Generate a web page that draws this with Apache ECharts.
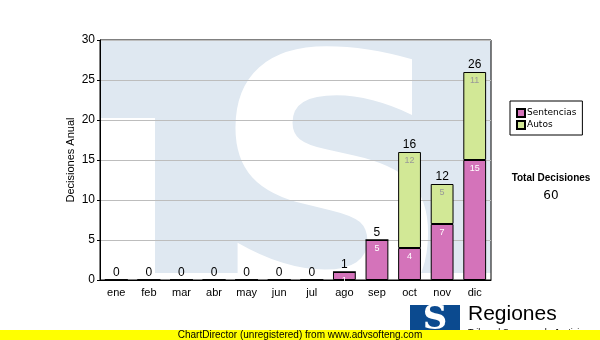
<!DOCTYPE html>
<html>
<head>
<meta charset="utf-8">
<script src="https://cdn.jsdelivr.net/npm/echarts@6/dist/echarts.min.js"></script>
<style>
  html, body { margin: 0; padding: 0; background: #fff; }
  #chart { width: 600px; height: 340px; }
</style>
</head>
<body>
<div id="chart"></div>
<script>
// datos
var months = ['ene', 'feb', 'mar', 'abr', 'may', 'jun', 'jul', 'ago', 'sep', 'oct', 'nov', 'dic'];
var sentencias = [0, 0, 0, 0, 0, 0, 0, 1, 5, 4, 7, 15];
var autos = [0, 0, 0, 0, 0, 0, 0, 0, 0, 12, 5, 11];
var totalLabel = 'Total Decisiones';
var totalValue = 60;

var totals = months.map(function (m, i) { return sentencias[i] + autos[i]; });

var chartDom = document.getElementById('chart');
var myChart = echarts.init(chartDom);
var option;

// marca de agua de fondo (decoracion)
var wmBlue = '#dfe8f1';

option = {
    animation: false,
    textStyle: { fontFamily: 'Liberation Sans, Arial, sans-serif' },
    grid: {
        left: 100, right: 109, top: 40, bottom: 60,
        show: true, borderColor: '#000', borderWidth: 1,
        backgroundColor: 'transparent'
    },
    graphic: [
        { type: 'rect', z: -10, shape: { x: 100, y: 40, width: 391, height: 240 }, style: { fill: wmBlue } },
        { type: 'rect', z: -9, shape: { x: 100, y: 118, width: 55, height: 162 }, style: { fill: '#fff' } },
        { type: 'rect', z: -9, shape: { x: 155, y: 273, width: 336, height: 7 }, style: { fill: '#fff' } },
        {
            type: 'text', z: -9, x: 332, y: 220, scaleX: 0.93,
            style: { text: 'S', font: 'bold 360px "DejaVu Sans"', fill: '#fff', textAlign: 'center', textVerticalAlign: 'middle' }
        },
        // texto total
        { type: 'text', x: 551, y: 178, style: { text: totalLabel, font: 'bold 10px "Liberation Sans"', fill: '#000', textAlign: 'center', textVerticalAlign: 'middle' } },
        { type: 'text', x: 551, y: 196, style: { text: String(totalValue), font: '12px "DejaVu Sans"', fill: '#000', textAlign: 'center', textVerticalAlign: 'middle' } },
        // logo inferior
        { type: 'rect', shape: { x: 410, y: 305, width: 50, height: 30 }, style: { fill: '#0b4a8f' } },
        { type: 'text', x: 435, y: 320, style: { text: 'S', font: 'bold 34px "DejaVu Serif"', fill: '#fff', textAlign: 'center', textVerticalAlign: 'middle' } },
        { type: 'text', left: 468, top: 304, style: { text: 'Regiones', font: '21px "Liberation Sans"', fill: '#000' } },
        { type: 'text', left: 468, top: 328, style: { text: 'Tribunal Supremo de Justicia', font: '9px "Liberation Sans"', fill: '#000' } },
        // franja amarilla
        { type: 'rect', shape: { x: 0, y: 330, width: 600, height: 10 }, style: { fill: '#ffff00' }, z: 50 },
        { type: 'text', x: 300, y: 335, z: 51, style: { text: 'ChartDirector (unregistered) from www.advsofteng.com', font: '10px "Liberation Sans"', fill: '#000', textAlign: 'center', textVerticalAlign: 'middle' } }
    ],
    legend: {
        data: ['Sentencias', 'Autos'],
        orient: 'vertical',
        left: 510, top: 101,
        padding: [7, 6, 5, 6],
        borderColor: '#000', borderWidth: 1,
        itemWidth: 8, itemHeight: 8, itemGap: 2,
        icon: 'rect',
        textStyle: { fontSize: 9, color: '#000', fontFamily: 'DejaVu Sans', padding: [0, 0, 0, -3] }
    },
    xAxis: {
        type: 'category',
        data: months,
        axisLine: { lineStyle: { color: '#000' } },
        axisTick: { alignWithLabel: true, length: 4, lineStyle: { color: '#000' } },
        axisLabel: { color: '#000', fontSize: 11, margin: 7 },
        splitLine: { show: false }
    },
    yAxis: {
        type: 'value',
        min: 0, max: 30, interval: 5,
        name: 'Decisiones Anual',
        nameLocation: 'middle',
        nameGap: 24,
        nameMoveOverlap: false,
        nameTextStyle: { color: '#000', fontSize: 11 },
        axisLine: { show: true, lineStyle: { color: '#000' } },
        axisTick: { show: true, length: 3, lineStyle: { color: '#000' } },
        axisLabel: { color: '#000', fontSize: 12, margin: 5 },
        splitLine: { lineStyle: { color: '#bdbdbd' } }
    },
    series: [
        {
            name: 'Sentencias',
            type: 'bar',
            stack: 'total',
            barWidth: '70%',
            itemStyle: { color: '#d473ba', borderColor: '#000', borderWidth: 1 },
            label: {
                show: true, position: 'insideTop', distance: 4,
                color: '#fff', fontSize: 9,
                formatter: function (p) { return p.value > 0 ? p.value : ''; }
            },
            data: sentencias
        },
        {
            name: 'Autos',
            type: 'bar',
            stack: 'total',
            itemStyle: { color: '#d2e896', borderColor: '#000', borderWidth: 1 },
            label: {
                show: true, position: 'insideTop', distance: 4,
                color: '#999', fontSize: 9,
                formatter: function (p) { return p.value > 0 ? p.value : ''; }
            },
            data: autos
        },
        {
            name: 'Total',
            type: 'bar',
            stack: 'total',
            itemStyle: { color: 'transparent', borderWidth: 0 },
            label: {
                show: true, position: 'top', distance: 1,
                color: '#000', fontSize: 12,
                formatter: function (p) { return totals[p.dataIndex]; }
            },
            data: months.map(function () { return 0; })
        }
    ]
};

option && myChart.setOption(option);
</script>
</body>
</html>
